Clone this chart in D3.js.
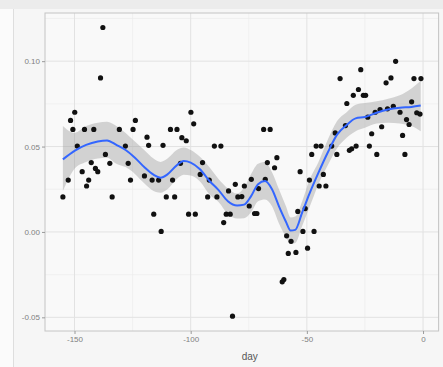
<!DOCTYPE html>
<html>
<head>
<meta charset="utf-8">
<script src="https://cdn.jsdelivr.net/npm/d3@7"></script>
<style>
  html, body { margin: 0; padding: 0; background: #f6f6f6; }
  svg { display: block; font-family: "Liberation Sans", Arial, sans-serif; }
</style>
</head>
<body>
<svg id="chart" width="443" height="367"></svg>
<script>
// observed points (day, b)
const pointDays = [-137.8, -138.8, -149.9, -151.7, -150.7, -145.7, -141.7, -148.8, -123.8, -124.8,
  -130.7, -128.1, -136.7, -142.8, -134.8, -126.9, -146.7, -141, -140, -143.9,
  -144.8, -152.7, -119.9, -125.9, -155, -133.8, -99.9, -98.7, -108.7, -105.9,
  -118.8, -118.1, -111.9, -103.8, -101.9, -89.8, -87, -116.6, -113.8, -107.8,
  -104.4, -94.9, -95.9, -92, -110.5, -106.9, -92.7, -88.7, -83.7, -80.8,
  -79.7, -115.9, -100.9, -98, -84.7, -83, -85.8, -112.7, -82, -68.6,
  -65.8, -67, -62.9, -63.9, -73.9, -67.9, -70.8, -76.9, -78, -74.8,
  -72.5, -71.5, -58.7, -56.8, -58, -54.7, -60.6, -59.9, -53.9, -51.7,
  -50.7, -49.7, -46.9, -52.9, -48.9, -47.9, -46, -43.9, -42.9, -44.7,
  -41.8, -39.3, -37.8, -11.8, -26.8, -35.7, -3.9, -0.9, -13.8, -15.9,
  -27.8, -30, -25.7, -24.7, -32.8, -4.9, -9.9, -2.7, -18.5, -20.6,
  -23.8, -7.1, -6, -17.8, -22.1, -8.8, -33.4, -23.1, -28.8, -30.7,
  -31.7, -19.9, -7.8, -37.1, -15.3, -12.8, -1.3];
const pointValues = [0.1197, 0.0902, 0.0701, 0.0653, 0.060, 0.060, 0.060, 0.0503, 0.0653, 0.060,
  0.060, 0.0503, 0.0454, 0.0406, 0.0402, 0.0402, 0.0353, 0.0372, 0.0353, 0.0304,
  0.0269, 0.0304, 0.0328, 0.0304, 0.0205, 0.0205, 0.0701, 0.0633, 0.060, 0.060,
  0.0555, 0.0507, 0.0507, 0.0552, 0.0534, 0.0503, 0.0503, 0.0304, 0.0304, 0.0304,
  0.0402, 0.0406, 0.0337, 0.0304, 0.0205, 0.0205, 0.0205, 0.0205, 0.024, 0.0279,
  0.0205, 0.0104, 0.0104, 0.0104, 0.0104, 0.0104, 0.0055, 0.0003, -0.0493, 0.060,
  0.060, 0.0406, 0.0435, 0.0376, 0.0308, 0.0308, 0.0254, 0.0269, 0.0207, 0.0152,
  0.0108, 0.0108, -0.0023, -0.0055, -0.0126, -0.012, -0.0292, -0.0279, 0.012, 0.0003,
  0.0137, -0.0095, 0.0003, 0.0353, 0.0304, 0.0454, 0.0503, 0.0503, 0.0337, 0.0269,
  0.0269, 0.0503, 0.058, 0.0999, 0.095, 0.0898, 0.0898, 0.0898, 0.0902, 0.0873,
  0.0834, 0.080, 0.080, 0.080, 0.0752, 0.0762, 0.0701, 0.0698, 0.0717, 0.0701,
  0.0672, 0.0658, 0.0629, 0.0616, 0.0575, 0.0565, 0.0623, 0.0503, 0.0503, 0.0487,
  0.0478, 0.0454, 0.0454, 0.0454, 0.0721, 0.0736, 0.069];

// loess smooth, with its confidence band
const smoothDays = [-155, -150, -145, -140, -136, -132, -128, -124, -120, -116, -113, -110, -106, -103,
  -100, -96, -92, -88, -84, -80, -77, -74, -71, -68, -65, -62, -59, -57, -55, -52,
  -49, -45, -41, -37, -33, -29, -25, -20, -15, -10, -5, -1];
const smoothFit = [0.0425, 0.0475, 0.051, 0.053, 0.0536, 0.051, 0.048, 0.0435, 0.038, 0.0335, 0.0318, 0.0337, 0.039, 0.0415,
  0.0406, 0.0367, 0.030, 0.0245, 0.018, 0.0155, 0.016, 0.021, 0.028, 0.0298, 0.025, 0.015, 0.006, 0.0008, 0.0012, 0.0114,
  0.022, 0.0347, 0.0465, 0.057, 0.0625, 0.0665, 0.0673, 0.0698, 0.0717, 0.0727, 0.0732, 0.074];
const smoothLow = [0.024, 0.037, 0.041, 0.043, 0.0435, 0.040, 0.038, 0.034, 0.0285, 0.024, 0.023, 0.025, 0.031, 0.0335,
  0.033, 0.0295, 0.022, 0.0175, 0.0105, 0.0078, 0.008, 0.0115, 0.018, 0.019, 0.015, 0.005, -0.003, -0.007, -0.0065, 0.0036,
  0.014, 0.028, 0.039, 0.049, 0.055, 0.059, 0.061, 0.0635, 0.064, 0.0635, 0.062, 0.059];
const smoothHigh = [0.062, 0.058, 0.062, 0.064, 0.0645, 0.062, 0.058, 0.053, 0.048, 0.043, 0.041, 0.043, 0.048, 0.0495,
  0.048, 0.044, 0.038, 0.031, 0.0255, 0.0225, 0.026, 0.034, 0.040, 0.041, 0.035, 0.025, 0.015, 0.0085, 0.009, 0.018,
  0.030, 0.041, 0.054, 0.065, 0.070, 0.0745, 0.0755, 0.0765, 0.078, 0.080, 0.084, 0.0885];

const xTicks = [-150, -100, -50, 0];
const xMinor = [-125, -75, -25];
const yTicks = [-0.05, 0.00, 0.05, 0.10];
const yMinor = [-0.025, 0.025, 0.075, 0.125];

const panel = { left: 45, top: 13, right: 438.6, bottom: 331 };

const svg = d3.select('#chart');

// page chrome around the plot image
svg.append('rect').attr('x', 0).attr('y', 0).attr('width', 443).attr('height', 367).attr('fill', '#f6f6f6');
svg.append('rect').attr('x', 0).attr('y', 0).attr('width', 13).attr('height', 367).attr('fill', '#fbfbfb');
svg.append('rect').attr('x', 0).attr('y', 0).attr('width', 443).attr('height', 9).attr('fill', '#ececec');
svg.append('line').attr('x1', 13.5).attr('x2', 13.5).attr('y1', 9).attr('y2', 367)
  .attr('stroke', '#dedede');

const x = d3.scaleLinear().domain([-162.7, 6.7]).range([panel.left, panel.right]);
const y = d3.scaleLinear().domain([-0.058, 0.1282]).range([panel.bottom, panel.top]);

svg.append('rect')
  .attr('x', panel.left).attr('y', panel.top)
  .attr('width', panel.right - panel.left).attr('height', panel.bottom - panel.top)
  .attr('fill', '#f9f9f9');

// grid
const grid = svg.append('g');
grid.selectAll('.xminor').data(xMinor).join('line')
  .attr('x1', d => x(d)).attr('x2', d => x(d))
  .attr('y1', panel.top).attr('y2', panel.bottom)
  .attr('stroke', '#ededed').attr('stroke-width', 0.7);
grid.selectAll('.yminor').data(yMinor).join('line')
  .attr('x1', panel.left).attr('x2', panel.right)
  .attr('y1', d => y(d)).attr('y2', d => y(d))
  .attr('stroke', '#ededed').attr('stroke-width', 0.7);
grid.selectAll('.xmajor').data(xTicks).join('line')
  .attr('x1', d => x(d)).attr('x2', d => x(d))
  .attr('y1', panel.top).attr('y2', panel.bottom)
  .attr('stroke', '#e2e2e2').attr('stroke-width', 1);
grid.selectAll('.ymajor').data(yTicks).join('line')
  .attr('x1', panel.left).attr('x2', panel.right)
  .attr('y1', d => y(d)).attr('y2', d => y(d))
  .attr('stroke', '#e2e2e2').attr('stroke-width', 1);

// confidence band + smooth
const smooth = smoothDays.map((d, i) => ({ day: d, fit: smoothFit[i], lo: smoothLow[i], hi: smoothHigh[i] }));

svg.append('path')
  .datum(smooth)
  .attr('d', d3.area().curve(d3.curveMonotoneX)
    .x(d => x(d.day)).y0(d => y(d.lo)).y1(d => y(d.hi)))
  .attr('fill', '#999999')
  .attr('fill-opacity', 0.4);

// points
const points = pointDays.map((d, i) => ({ day: d, value: pointValues[i] }));
svg.append('g').selectAll('circle').data(points).join('circle')
  .attr('cx', d => x(d.day))
  .attr('cy', d => y(d.value))
  .attr('r', 2.6)
  .attr('fill', '#111');

svg.append('path')
  .datum(smooth)
  .attr('d', d3.line().curve(d3.curveMonotoneX).x(d => x(d.day)).y(d => y(d.fit)))
  .attr('fill', 'none')
  .attr('stroke', '#3366ff')
  .attr('stroke-width', 2);

// panel border
svg.append('rect')
  .attr('x', panel.left).attr('y', panel.top)
  .attr('width', panel.right - panel.left).attr('height', panel.bottom - panel.top)
  .attr('fill', 'none').attr('stroke', '#c4c4c4').attr('stroke-width', 1);

// axes
const xAxis = svg.append('g')
  .attr('transform', `translate(0,${panel.bottom})`)
  .call(d3.axisBottom(x).tickValues(xTicks).tickSize(3).tickPadding(2).tickFormat(d => String(d)));
const yAxis = svg.append('g')
  .attr('transform', `translate(${panel.left},0)`)
  .call(d3.axisLeft(y).tickValues(yTicks).tickSize(3).tickPadding(2).tickFormat(d => d.toFixed(2)));

[xAxis, yAxis].forEach(ax => {
  ax.select('.domain').remove();
  ax.selectAll('.tick line').attr('stroke', '#9a9a9a');
  ax.selectAll('.tick text')
    .attr('fill', '#808080')
    .style('font-size', '8px')
    .style('font-family', '"Liberation Sans", Arial, sans-serif');
});

// axis titles
svg.append('text')
  .attr('x', (x(-150) + x(0)) / 2 + 1)
  .attr('y', 360)
  .attr('text-anchor', 'middle')
  .attr('fill', '#555')
  .style('font-size', '10px')
  .text('day');

svg.append('defs').append('clipPath').attr('id', 'ytitle-clip')
  .append('rect').attr('x', 14).attr('y', 140).attr('width', 20).attr('height', 50);
svg.append('text')
  .attr('clip-path', 'url(#ytitle-clip)')
  .attr('transform', `translate(18,${(panel.top + panel.bottom) / 2}) rotate(-90)`)
  .attr('text-anchor', 'middle')
  .attr('fill', '#555')
  .style('font-size', '10px')
  .text('b');
</script>
</body>
</html>
